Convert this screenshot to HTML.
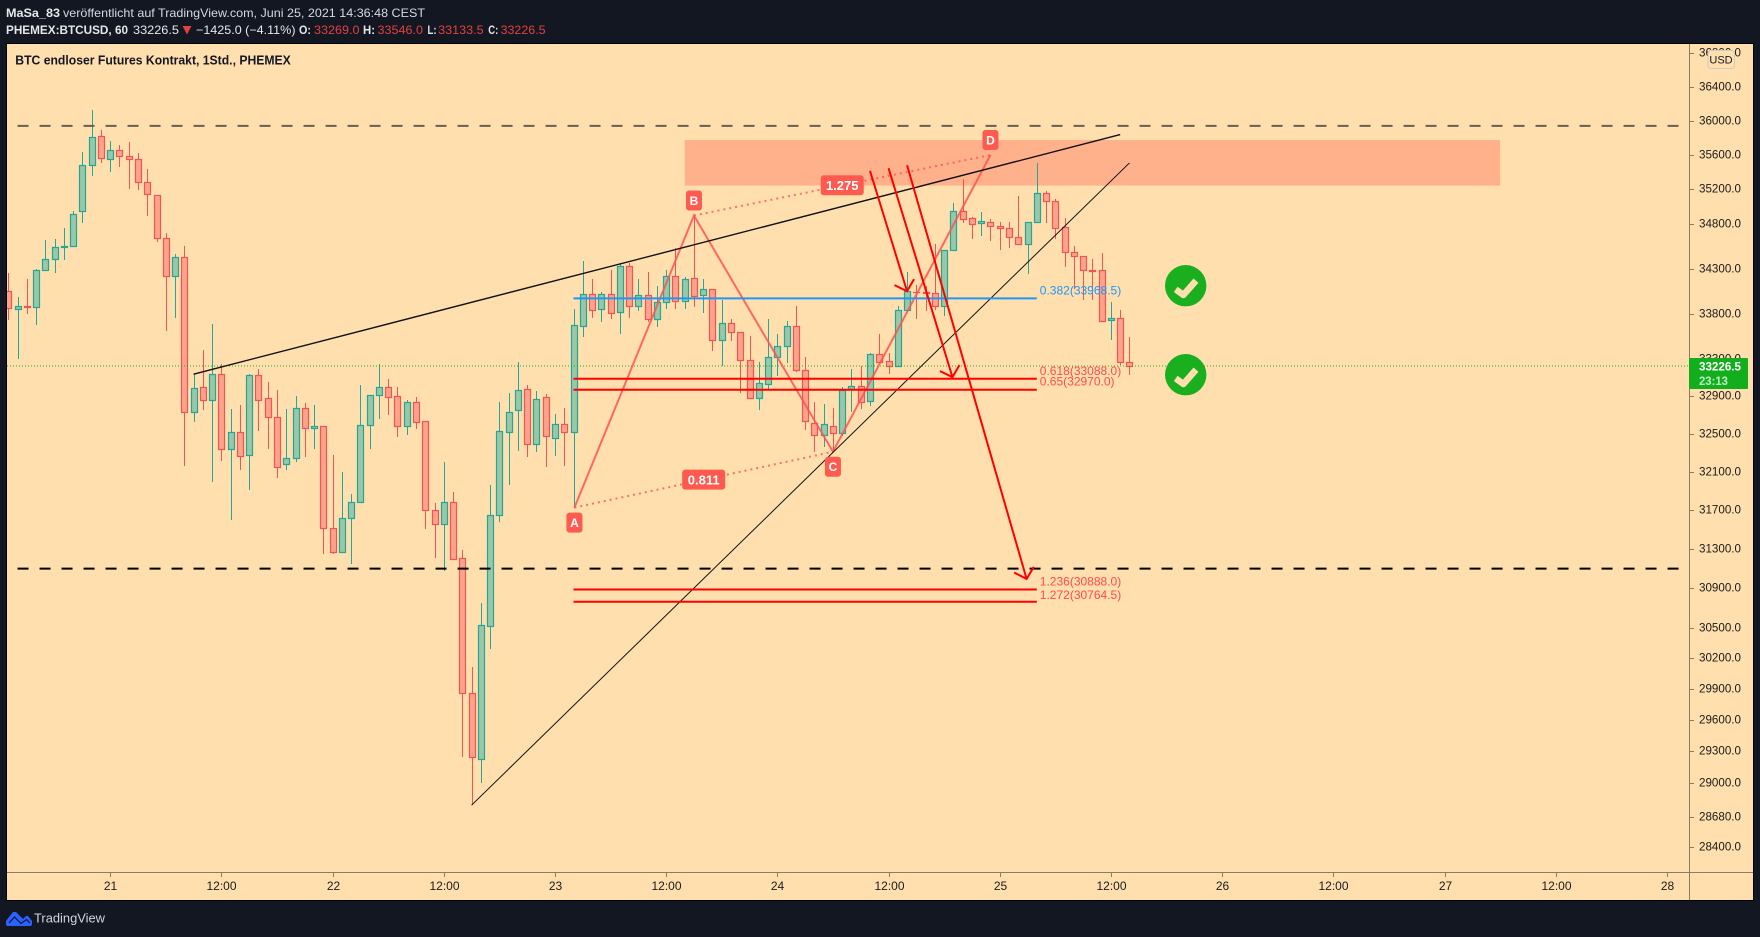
<!DOCTYPE html>
<html lang="de">
<head>
<meta charset="utf-8">
<title>BTC endloser Futures Kontrakt, 1Std., PHEMEX</title>
<style>
html,body{margin:0;padding:0;background:#131722;}
body{width:1760px;height:937px;overflow:hidden;}
svg{display:block;font-family:"Liberation Sans",sans-serif;}
</style>
</head>
<body>
<svg id="chart" xmlns="http://www.w3.org/2000/svg" width="1760" height="937" viewBox="0 0 1760 937">
  <defs>
    <clipPath id="plot-clip"><rect x="7" y="44" width="1682" height="828"></rect></clipPath>
  </defs>
  <rect x="0" y="0" width="1760" height="937" fill="#131722"></rect>

  <g font-size="12" fill="#e6e7ea">
    <text x="6" y="17" font-weight="bold" textLength="54" lengthAdjust="spacingAndGlyphs">MaSa_83</text>
    <text x="63" y="17" textLength="362" lengthAdjust="spacingAndGlyphs" fill="#d6d8dd">veröffentlicht auf TradingView.com, Juni 25, 2021 14:36:48 CEST</text>
    <text x="6" y="34" font-weight="bold" textLength="122" lengthAdjust="spacingAndGlyphs">PHEMEX:BTCUSD, 60</text>
    <text x="133" y="34" textLength="46" lengthAdjust="spacingAndGlyphs">33226.5</text>
    <polygon points="182.5,26 191.5,26 187,34.5" fill="#e2413f"></polygon>
    <text x="196" y="34" textLength="99.5" lengthAdjust="spacingAndGlyphs">−1425.0 (−4.11%)</text>
    <text x="299" y="34" font-weight="bold" textLength="12" lengthAdjust="spacingAndGlyphs">O:</text>
    <text x="314" y="34" fill="#e2413f" textLength="45.5" lengthAdjust="spacingAndGlyphs">33269.0</text>
    <text x="363" y="34" font-weight="bold" textLength="12" lengthAdjust="spacingAndGlyphs">H:</text>
    <text x="377.5" y="34" fill="#e2413f" textLength="45.5" lengthAdjust="spacingAndGlyphs">33546.0</text>
    <text x="427.5" y="34" font-weight="bold" textLength="9" lengthAdjust="spacingAndGlyphs">L:</text>
    <text x="438.2" y="34" fill="#e2413f" textLength="45.5" lengthAdjust="spacingAndGlyphs">33133.5</text>
    <text x="488.3" y="34" font-weight="bold" textLength="10" lengthAdjust="spacingAndGlyphs">C:</text>
    <text x="500.6" y="34" fill="#e2413f" textLength="45" lengthAdjust="spacingAndGlyphs">33226.5</text>
  </g>

  <rect x="6.5" y="43.5" width="1747" height="857" fill="#FFDFAE" stroke="#000" stroke-width="1"></rect>
  <g id="plot" clip-path="url(#plot-clip)"></g>
  <g id="overlay"></g>

  <text x="15.3" y="64.5" font-size="13" font-weight="bold" fill="#131722" textLength="275.5" lengthAdjust="spacingAndGlyphs">BTC endloser Futures Kontrakt, 1Std., PHEMEX</text>

  <g id="time-axis"></g>
  <g id="price-axis"></g>

  <g>
    <rect x="1689" y="358" width="59" height="31" rx="1" fill="#13AE1D"></rect>
    <text x="1699" y="370.5" font-size="12" font-weight="bold" fill="#fff" textLength="42" lengthAdjust="spacingAndGlyphs">33226.5</text>
    <text x="1699" y="385" font-size="12" font-weight="bold" fill="#bfeec3" textLength="29" lengthAdjust="spacingAndGlyphs">23:13</text>
  </g>

  <g>
    <rect x="1708" y="50.5" width="26.5" height="18" rx="3" fill="#FFDFAE" stroke="#cfcac4" stroke-width="1"></rect>
    <text x="1721" y="63.5" font-size="11" text-anchor="middle" fill="#131722">USD</text>
  </g>

  <g>
    <circle cx="1185.7" cy="285.7" r="20.7" fill="#19AF1F"></circle>
    <polyline points="1175.7,289.4 1183.4,295 1196,280.7" fill="none" stroke="#FFDFAE" stroke-width="6.5" stroke-linejoin="round"></polyline>
  </g>
  <g>
    <circle cx="1185.7" cy="374.7" r="20.7" fill="#19AF1F"></circle>
    <polyline points="1175.7,378.4 1183.4,384 1196,369.7" fill="none" stroke="#FFDFAE" stroke-width="6.5" stroke-linejoin="round"></polyline>
  </g>

  <g>
    <path d="M6 921 L13 912 L16 912 L23 919 L26 916 L28 916 L32 921 L32 924 Q32 926 30 926 L8 926 Q6 926 6 924 Z" fill="#2962FF"></path>
    <polyline points="9,923 14.5,917 21,923.5 26.5,919.5 30,923" fill="none" stroke="#131722" stroke-width="1.2"></polyline>
    <text x="34" y="922.5" font-size="13" fill="#d1d4dc" textLength="71" lengthAdjust="spacingAndGlyphs">TradingView</text>
  </g>
</svg>

<script>
// Hourly candles. Hour 0 is 21 June 00:00.
const firstHour = -11;
const opens = [
34048,33849,33885,33877,34283,34406,34541,34552,34950,35478,
35816,35548,35652,35582,35548,35282,35132,34643,34216,34428,
32729,32997,32857,33138,32335,32516,32272,33127,32878,32676,
32177,32240,32772,32559,32580,31513,31266,31616,31780,32590,
32911,32997,32900,32580,32835,32633,31698,31554,31780,31205,
29859,29222,30526,31646,32516,32750,32976,32394,32889,32459,
32601,32516,33662,34014,33849,34014,33816,34328,33882,34003,
33739,33926,34216,33937,34194,34003,34071,33508,33697,33596,
33290,32878,33030,33322,33442,33662,33181,32612,32484,32580,
32505,32979,33008,32846,33354,33279,33225,33838,34045,34037,
34025,33882,34507,34950,34870,34813,34825,34779,34756,34654,
34574,34825,35155,35063,34768,34484,34440,34288,34283,33727,
33750,33269];
const highs = [
34253,33981,34186,34298,34624,34635,34760,34953,35632,36125,
35890,35761,35714,35749,35620,35436,35132,34700,34465,34556,
33138,33401,33687,33250,32764,32807,33141,33195,33055,32968,
32764,32903,32828,32807,32580,32275,32097,31867,33022,32911,
33250,33087,33001,32860,32892,32633,31773,32201,31888,31289,
30113,30749,31961,32838,32936,33268,33022,32954,32922,32711,
32775,33852,34387,34182,34040,34283,34365,34365,34182,34264,
34108,34283,34529,34205,34896,34182,34071,33948,33739,33596,
33555,33271,33742,33574,33717,33882,33322,32838,32817,32775,
32997,33195,33228,33365,33577,33365,33882,34260,34119,34108,
34578,34507,35040,35320,34881,34938,34859,34825,34825,35124,
34825,35502,35178,35086,34870,34552,34440,34408,34473,33926,
33838,33546];
const lows = [
33731,33307,33797,33676,34283,34256,34398,34552,34820,35355,
35508,35405,35459,35205,35193,34896,34601,33613,33756,32160,
32629,32753,31996,32212,31601,32118,31909,32533,32338,32034,
32118,32201,32254,32338,31248,31248,31266,31147,31780,32338,
32657,32700,32466,32487,32551,31505,31208,31076,31195,29246,
28787,28999,30296,31580,31961,32317,32254,32306,32149,32264,
32160,31719,33548,33756,33712,33742,33580,33756,33830,33712,
33657,33849,33855,33855,33877,33811,33393,33228,33503,32939,
32878,32757,32979,33123,33264,33160,32540,32309,32359,32309,
32478,32732,32764,32799,33268,33141,33225,33816,33742,33830,
33838,33778,34507,34820,34638,34672,34616,34513,34536,34574,
34245,34825,34817,34638,34323,34075,33951,33951,33709,33511,
33239,33133.5];
const closes = [
33860,33882,33875,34283,34406,34541,34552,34916,35478,35804,
35559,35652,35582,35548,35282,35143,34643,34216,34428,32735,
32987,32857,33138,32335,32516,32261,33127,32857,32676,32146,
32240,32772,32559,32580,31513,31266,31616,31780,32590,32911,
32997,32889,32580,32835,32622,31698,31554,31780,31195,29859,
29246,30530,31646,32526,32729,32965,32394,32867,32478,32601,
32516,33673,34014,33838,34014,33805,34328,33882,34003,33739,
33926,34216,33937,34182,33992,34071,33508,33697,33596,33290,
32878,33041,33322,33442,33662,33181,32633,32484,32601,32505,
32965,33008,32842,33354,33268,33225,33838,34048,34035,34027,
33882,34507,34950,34859,34802,34836,34779,34756,34654,34574,
34825,35155,35063,34756,34484,34440,34283,34278,33723,33750,
33268,33226.5];

const priceTicks = [36800,36400,36000,35600,35200,34800,34300,33800,33300,32900,32500,32100,31700,31300,30900,30500,30200,29900,29600,29300,29000,28680,28400];
const timeTickHours = [0,12,24,36,48,60,72,84,96,108,120,132,144,156,168];
const timeTickLabels = ['21','12:00','22','12:00','23','12:00','24','12:00','25','12:00','26','12:00','27','12:00','28'];

const lastPrice = 33226.5;
const levelPrices = [35937,31099];
const levelHours = [-10,169.3];
const zoneHours = [62,150];
const zonePrices = [35772,35243];
const trendHoursUpper = [9,109];
const trendPricesUpper = [33138,35835];
const trendHoursLower = [39,110];
const trendPricesLower = [28787,35505];
const fibPrices = [33968.5,33088,32970,30888,30764.5];
const fibLabels = ['0.382(33968.5)','0.618(33088.0)','0.65(32970.0)','1.236(30888.0)','1.272(30764.5)'];
const fibHours = [50,100];
const patternNames = ['A','B','C','D'];
const patternHours = [50.1,63,78,95];
const patternPrices = [31725,34900,32309,35597];
const patternRatios = ['0.811','1.275'];
const arrowStartHours = [82,84,86];
const arrowStartPrices = [35413,35444,35478];
const arrowEndHours = [86,90.9,98.9];
const arrowEndPrices = [34048,33106,30995];

function xScale(hour){ return 110.2 + 9.266 * hour; }
function yScale(price){ return 86.7 + 3062 * Math.log(36400 / price); }

const NS = 'http://www.w3.org/2000/svg';
function make(tag, parent, props, txt){
  const el = document.createElementNS(NS, tag);
  for (const k in props) el.setAttribute(k, props[k]);
  if (txt !== undefined) el.textContent = txt;
  parent.appendChild(el);
  return el;
}
const plot = document.getElementById('plot');
const overlay = document.getElementById('overlay');
const timeAxis = document.getElementById('time-axis');
const priceAxis = document.getElementById('price-axis');
const axisColor = '#8c7c64';
const textColor = '#1b1b1b';

// supply zone
const zone = make('rect', plot, {
  x: xScale(zoneHours[0]), y: yScale(zonePrices[0]),
  width: xScale(zoneHours[1]) - xScale(zoneHours[0]),
  height: yScale(zonePrices[1]) - yScale(zonePrices[0]),
  fill: '#FFB18C'
});



// candles
const candleGroup = make('g', plot, {});


opens.forEach(function(open, i){
  const up = closes[i] >= open;
  const line = up ? '#22A79A' : '#F05555';
  const fill = up ? '#9AC7A6' : '#FBA48B';
  const cx = Math.round(xScale(firstHour + i)) + 0.5;
  const g = make('g', candleGroup, {});
  
  
  const wick = make('line', g, {
    x1: cx, x2: cx,
    y1: Math.round(yScale(highs[i])),
    y2: Math.round(yScale(lows[i])),
    stroke: line, 'stroke-width': 1
  });
  
  
  const top = Math.round(yScale(Math.max(open, closes[i]))) + 0.5;
  const bot = Math.round(yScale(Math.min(open, closes[i]))) + 0.5;
  const body = make('rect', g, {
    x: cx - 3, y: top, width: 6, height: Math.max(bot - top, 0.01),
    fill: fill, stroke: line, 'stroke-width': 1.2
  });
  
  
});

// last price line
const lastLine = make('line', overlay, {
  x1: 7, x2: 1689, y1: yScale(lastPrice), y2: yScale(lastPrice),
  stroke: '#10B01F', 'stroke-width': 1, 'stroke-dasharray': '1 2'
});



// horizontal dashed levels
levelPrices.forEach(function(price, i){
  const lvl = make('line', overlay, {
    x1: xScale(levelHours[0]), x2: xScale(levelHours[1]),
    y1: yScale(price), y2: yScale(price),
    stroke: i === 0 ? '#675F50' : '#000', 'stroke-width': 2, 'stroke-dasharray': '11 11'
  });
  
  
});

// harmonic pattern
const patternPts = patternHours.map(function(h, i){ return [xScale(h), yScale(patternPrices[i])]; });
const legs = make('polyline', overlay, {
  points: patternPts.map(function(p){ return p.join(','); }).join(' '),
  fill: 'none', stroke: '#FF5252', 'stroke-width': 2, opacity: 0.85
});


[[0,2],[1,3]].forEach(function(pair){
  const d = make('line', overlay, {
    x1: patternPts[pair[0]][0], y1: patternPts[pair[0]][1],
    x2: patternPts[pair[1]][0], y2: patternPts[pair[1]][1],
    stroke: '#FF5252', 'stroke-width': 2, 'stroke-dasharray': '2 4', opacity: 0.8
  });
  
  
});

// trend lines
const upperTrend = make('line', overlay, {
  x1: xScale(trendHoursUpper[0]), y1: yScale(trendPricesUpper[0]),
  x2: xScale(trendHoursUpper[1]), y2: yScale(trendPricesUpper[1]),
  stroke: '#111', 'stroke-width': 1.4
});


const lowerTrend = make('line', overlay, {
  x1: xScale(trendHoursLower[0]), y1: yScale(trendPricesLower[0]),
  x2: xScale(trendHoursLower[1]), y2: yScale(trendPricesLower[1]),
  stroke: '#111', 'stroke-width': 1
});



// fib levels
fibPrices.forEach(function(price, i){
  const color = i === 0 ? '#2196F3' : '#FF0000';
  const y = yScale(price);
  const fl = make('line', overlay, {
    x1: xScale(fibHours[0]), x2: xScale(fibHours[1]), y1: y, y2: y,
    stroke: color, 'stroke-width': 2
  });
  
  
  const ft = make('text', overlay, {
    x: xScale(fibHours[1]) + 3, y: y - 4 + (i === 4 ? 1 : 0), 'font-size': 12,
    fill: i === 0 ? '#2196F3' : '#FF4B4B'
  }, fibLabels[i]);
  
  
});

// projection arrows
arrowStartHours.forEach(function(h, i){
  const x1 = xScale(h), y1 = yScale(arrowStartPrices[i]);
  const x2 = xScale(arrowEndHours[i]), y2 = yScale(arrowEndPrices[i]);
  const back = Math.atan2(y1 - y2, x1 - x2);
  const spread = 47 * Math.PI / 180;
  const len = 14;
  const ax = x2 + len * Math.cos(back - spread), ay = y2 + len * Math.sin(back - spread);
  const bx = x2 + len * Math.cos(back + spread), by = y2 + len * Math.sin(back + spread);
  const arrow = make('path', overlay, {
    d: 'M' + x1 + ' ' + y1 + ' L' + x2 + ' ' + y2 + ' M' + ax + ' ' + ay + ' L' + x2 + ' ' + y2 + ' L' + bx + ' ' + by,
    fill: 'none', stroke: '#FF0000', 'stroke-width': 2
  });
  
  
});

// pattern labels
function badge(cx, cy, w, label, size, name){
  const g = make('g', overlay, {});
  
  
  make('rect', g, { x: cx - w / 2, y: cy - 10, width: w, height: 20, rx: 3, fill: '#FF5A50' });
  make('text', g, { x: cx, y: cy + size * 0.36, 'font-size': size, 'font-weight': 'bold', fill: '#fff', 'text-anchor': 'middle' }, label);
}
const badgeOffsets = [15, -15, 15, -15];
patternNames.forEach(function(n, i){
  badge(patternPts[i][0], patternPts[i][1] + badgeOffsets[i], 16, n, 12, 'pattern-point-label');
});
[[0,2],[1,3]].forEach(function(pair, i){
  badge((patternPts[pair[0]][0] + patternPts[pair[1]][0]) / 2,
        (patternPts[pair[0]][1] + patternPts[pair[1]][1]) / 2,
        43, patternRatios[i], 13, 'pattern-ratio-label');
});

// time axis
make('line', timeAxis, { x1: 7, x2: 1753, y1: 872.5, y2: 872.5, stroke: axisColor, 'stroke-width': 1 });
timeTickHours.forEach(function(h, i){
  const x = Math.round(xScale(h)) + 0.5;
  const tick = make('line', timeAxis, { x1: x, x2: x, y1: 872, y2: 877, stroke: axisColor, 'stroke-width': 1 });
  
  
  const label = make('text', timeAxis, { x: x, y: 890, 'font-size': 12, fill: textColor, 'text-anchor': 'middle' }, timeTickLabels[i]);
  
  
});

// price axis
make('line', priceAxis, { x1: 1689.5, x2: 1689.5, y1: 44, y2: 900, stroke: axisColor, 'stroke-width': 1 });
priceTicks.forEach(function(p){
  const y = Math.round(yScale(p)) + 0.5;
  const tick = make('line', priceAxis, { x1: 1689, x2: 1694, y1: y, y2: y, stroke: axisColor, 'stroke-width': 1 });
  
  
  const label = make('text', priceAxis, { x: 1699, y: y + 3, 'font-size': 12, fill: textColor, textLength: 42, lengthAdjust: 'spacingAndGlyphs' }, p.toFixed(1));
  
  
});
</script>
</body>
</html>
